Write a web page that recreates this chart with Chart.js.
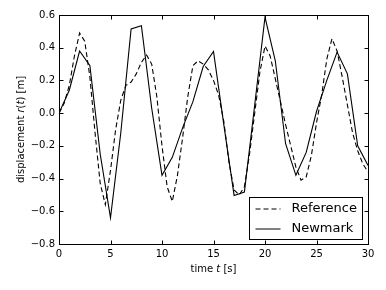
<!DOCTYPE html>
<html>
<head>
<meta charset="utf-8">
<script src="https://cdn.jsdelivr.net/npm/chart.js@4/dist/chart.umd.min.js"></script>
<style>
  html, body { margin: 0; padding: 0; background: #fff; }
  #wrap { width: 386px; height: 290px; position: relative; }
</style>
</head>
<body>
<div id="wrap"><canvas id="myChart"></canvas></div>
<script>
// Reference solution (dashed)
const refTime = [0, 0.5, 1, 1.5, 2, 2.5, 3, 3.5, 4, 4.5, 5, 5.5, 6, 6.5, 7, 7.5, 8, 8.5, 9, 9.5,
                 10, 10.5, 11, 11.5, 12, 12.5, 13, 13.5, 14, 14.5, 15, 15.5, 16, 16.5, 17, 17.5, 18, 18.5, 19, 19.5,
                 20, 20.5, 21, 21.5, 22, 22.5, 23, 23.5, 24, 24.5, 25, 25.5, 26, 26.5, 27, 27.5, 28, 28.5, 29, 29.5, 30];
const refDisp = [0, 0.06, 0.17, 0.35, 0.49, 0.44, 0.22, -0.12, -0.43, -0.56, -0.35, -0.1, 0.08, 0.17, 0.19, 0.24, 0.31, 0.355, 0.3, 0.1,
                 -0.2, -0.45, -0.54, -0.38, -0.15, 0.1, 0.29, 0.32, 0.3, 0.265, 0.2, 0.11, -0.05, -0.3, -0.47, -0.5, -0.45, -0.25, 0.0, 0.25,
                 0.41, 0.35, 0.21, 0.07, -0.07, -0.2, -0.33, -0.41, -0.39, -0.26, -0.06, 0.11, 0.33, 0.455, 0.38, 0.22, 0.05, -0.12, -0.23, -0.31, -0.36];

// Newmark solution (solid), one point per second
const newmarkTime = [0, 1, 2, 3, 4, 5, 6, 7, 8, 9, 10, 11, 12, 13, 14, 15, 16, 17, 18, 19, 20, 21, 22, 23, 24, 25, 26, 27, 28, 29, 30];
const newmarkDisp = [0, 0.14, 0.38, 0.29, -0.25, -0.64, -0.12, 0.515, 0.535, 0.03, -0.38, -0.27, -0.09, 0.07, 0.285, 0.377,
                     -0.07, -0.503, -0.483, 0.05, 0.587, 0.32, -0.187, -0.38, -0.24, 0.01, 0.2, 0.373, 0.24, -0.2, -0.32];

const xTicks = [0, 5, 10, 15, 20, 25, 30];
const yTicks = [-0.8, -0.6, -0.4, -0.2, 0.0, 0.2, 0.4, 0.6];

const FONT = '"DejaVu Sans", sans-serif';

function toPoints(xs, ys) {
    return xs.map((x, i) => ({ x: x, y: ys[i] }));
}

function fmtY(v) {
    return v.toFixed(1).replace('-', '\u2212');
}

// matplotlib style frame: box, inward ticks on all four sides, axis labels and legend
const framePlugin = {
    id: 'frame',
    afterDraw(chart) {
        const ctx = chart.ctx;
        const a = chart.chartArea;
        const xs = chart.scales.x;
        const ys = chart.scales.y;
        const L = Math.round(a.left) + 0.5, R = Math.round(a.right) + 0.5;
        const T = Math.round(a.top) + 0.5, B = Math.round(a.bottom) + 0.5;
        ctx.save();
        ctx.strokeStyle = '#000';
        ctx.lineWidth = 1;
        ctx.strokeRect(L, T, R - L, B - T);

        ctx.beginPath();
        xTicks.forEach(t => {
            const px = Math.round(xs.getPixelForValue(t)) + 0.5;
            ctx.moveTo(px, B); ctx.lineTo(px, B - 4);
            ctx.moveTo(px, T); ctx.lineTo(px, T + 4);
        });
        yTicks.forEach(t => {
            const py = Math.round(ys.getPixelForValue(t)) + 0.5;
            ctx.moveTo(L, py); ctx.lineTo(L + 4, py);
            ctx.moveTo(R, py); ctx.lineTo(R - 4, py);
        });
        ctx.stroke();

        // x axis label: "time t [s]" with italic t
        ctx.fillStyle = '#000';
        ctx.textBaseline = 'alphabetic';
        const parts = [['time ', 'normal'], ['t', 'italic'], [' [s]', 'normal']];
        drawParts(ctx, parts, (a.left + a.right) / 2, 272, 10);

        // y axis label: "displacement r(t) [m]"
        ctx.save();
        ctx.translate(24, (a.top + a.bottom) / 2);
        ctx.rotate(-Math.PI / 2);
        const yparts = [['displacement ', 'normal'], ['r', 'italic'], ['(', 'normal'], ['t', 'italic'], [') [m]', 'normal']];
        drawParts(ctx, yparts, 0, 0, 10);
        ctx.restore();

        // legend, lower right
        const bx = 249.5, by = 197.5, bw = 113, bh = 42;
        ctx.fillStyle = '#fff';
        ctx.fillRect(bx, by, bw, bh);
        ctx.strokeStyle = '#000';
        ctx.strokeRect(bx, by, bw, bh);
        chart.data.datasets.forEach((ds, i) => {
            const yy = by + 11.5 + i * 20;
            ctx.beginPath();
            ctx.setLineDash(ds.borderDash || []);
            ctx.moveTo(bx + 6, yy);
            ctx.lineTo(bx + 31, yy);
            ctx.stroke();
            ctx.setLineDash([]);
            ctx.font = '13px ' + FONT;
            ctx.textAlign = 'left';
            ctx.textBaseline = 'middle';
            ctx.fillStyle = '#000';
            ctx.fillText(ds.label, bx + 42, yy);
        });
        ctx.restore();
    }
};

function drawParts(ctx, parts, cx, y, size) {
    let total = 0;
    parts.forEach(p => {
        ctx.font = (p[1] === 'italic' ? 'italic ' : '') + size + 'px ' + FONT;
        total += ctx.measureText(p[0]).width;
    });
    let x = cx - total / 2;
    ctx.textAlign = 'left';
    parts.forEach(p => {
        ctx.font = (p[1] === 'italic' ? 'italic ' : '') + size + 'px ' + FONT;
        ctx.fillText(p[0], x, y);
        x += ctx.measureText(p[0]).width;
    });
}

const canvas = document.getElementById('myChart');

new Chart(canvas, {
    type: 'scatter',
    data: {
        datasets: [{
            label: 'Reference',
            data: toPoints(refTime, refDisp),
            showLine: true,
            borderColor: '#000',
            borderWidth: 1.1,
            borderDash: [5, 3],
            pointRadius: 0,
            tension: 0
        }, {
            label: 'Newmark',
            data: toPoints(newmarkTime, newmarkDisp),
            showLine: true,
            borderColor: '#000',
            borderWidth: 1.1,
            pointRadius: 0,
            tension: 0
        }]
    },
    options: {
        responsive: true,
        maintainAspectRatio: false,
        animation: false,
        layout: { padding: { top: 15, right: 18, left: 0, bottom: 0 } },
        plugins: {
            legend: { display: false },
            tooltip: { enabled: false }
        },
        scales: {
            x: {
                type: 'linear',
                min: 0,
                max: 30,
                afterBuildTicks: s => { s.ticks = xTicks.map(v => ({ value: v })); },
                afterFit: s => { s.height = 46; },
                grid: { display: false, drawTicks: false },
                border: { display: false },
                ticks: {
                    color: '#000',
                    padding: 4,
                    maxRotation: 0,
                    font: { family: FONT, size: 10 },
                    callback: v => String(v)
                }
            },
            y: {
                type: 'linear',
                min: -0.8,
                max: 0.6,
                afterBuildTicks: s => { s.ticks = yTicks.map(v => ({ value: v })); },
                afterFit: s => { s.width = 59; },
                grid: { display: false, drawTicks: false },
                border: { display: false },
                ticks: {
                    color: '#000',
                    padding: 4,
                    font: { family: FONT, size: 10 },
                    callback: v => fmtY(v)
                }
            }
        }
    },
    plugins: [framePlugin]
});
</script>
</body>
</html>
